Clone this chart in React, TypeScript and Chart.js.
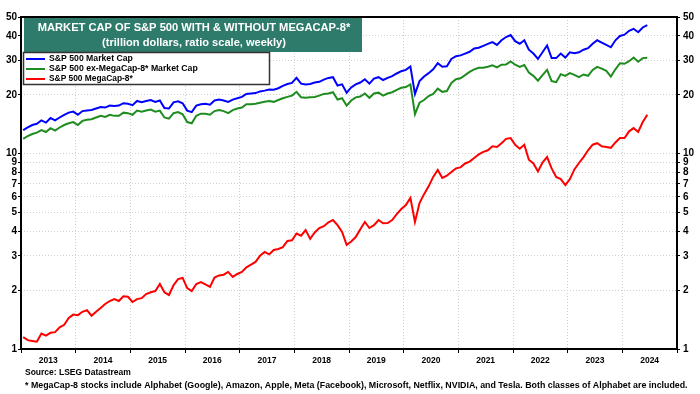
import React, { useEffect, useRef } from "react";
import { Chart, registerables } from "chart.js";

Chart.register(...registerables);

// Monthly readings, Jan 2013 .. Jun 2024 (trillion dollars)
const START_YEAR = 2013;
const sp500Total = [
  13.2, 13.6, 14.0, 14.2, 14.8, 14.4, 15.2, 14.8, 15.3, 15.8, 16.2, 16.4,
  15.8, 16.5, 16.6, 16.7, 17.0, 17.3, 17.2, 17.6, 17.5, 17.6, 18.1, 18.0,
  17.7, 18.6, 18.3, 18.6, 18.8, 18.4, 18.7, 17.1, 17.0, 18.3, 18.5, 18.1,
  16.6, 16.3, 17.6, 17.9, 18.0, 17.8, 18.7, 18.9, 18.7, 18.4, 18.9, 19.2,
  19.5, 20.2, 20.3, 20.4, 20.8, 21.0, 21.3, 21.2, 21.6, 22.2, 22.7, 23.0,
  24.4, 22.8, 22.6, 22.7, 23.1, 23.3, 23.9, 24.4, 24.6, 22.3, 22.6, 20.5,
  21.8, 22.6, 23.1, 24.0, 22.8, 24.2, 24.6, 23.8, 24.4, 24.9, 25.7, 26.4,
  26.8, 27.9, 20.2, 23.5, 24.8, 25.8, 27.0, 29.0, 27.8, 28.0, 30.5, 31.5,
  31.8, 32.5, 33.2, 34.5, 34.8, 35.6, 36.4, 37.2, 36.0, 38.0, 39.5, 40.4,
  37.6, 36.5, 38.0, 34.0, 32.5, 30.5, 33.0, 35.8, 30.8, 30.8, 32.5, 31.0,
  33.0, 32.6, 33.0, 34.0, 34.6, 36.5, 38.0, 37.0, 36.0, 35.0, 38.0, 40.0,
  40.6, 42.5, 43.5, 41.8, 44.2, 45.4,
];
const sp500ExMega = [
  11.9, 12.3, 12.6, 12.8, 13.2, 12.9, 13.5, 13.1, 13.6, 14.0, 14.3, 14.5,
  14.0, 14.7, 14.9, 15.0, 15.3, 15.6, 15.4, 15.8, 15.6, 15.6, 16.2, 16.1,
  15.8, 16.6, 16.4, 16.6, 16.8, 16.4, 16.6, 15.3, 15.1, 16.1, 16.3, 15.9,
  14.5, 14.3, 15.6, 16.0, 16.0, 15.8, 16.5, 16.7, 16.5, 16.1, 16.7, 17.0,
  17.2, 17.9, 17.9, 18.0, 18.2, 18.4, 18.6, 18.4, 18.8, 19.2, 19.5, 19.8,
  20.7, 19.4, 19.3, 19.4, 19.5, 19.8, 20.2, 20.3, 20.6, 18.9, 19.2, 17.6,
  18.7, 19.4, 19.6, 20.3, 19.3, 20.3, 20.5, 19.8, 20.3, 20.6, 21.2, 21.7,
  21.9, 22.6, 15.9, 18.2, 18.8, 19.7, 20.2, 21.5, 20.7, 20.9, 23.0, 24.0,
  24.3, 25.2, 26.2, 27.0, 27.5, 27.5, 27.8, 28.3, 27.6, 28.5, 28.6, 29.6,
  28.5, 27.8, 28.4, 26.0, 25.0, 23.6, 25.2, 26.8, 23.5, 23.2, 25.5, 25.0,
  25.8, 25.3, 24.6, 25.4, 25.0, 26.8, 27.8, 27.2, 26.5, 24.8, 27.0, 29.0,
  28.8, 29.7, 31.0, 29.5, 30.8, 30.9,
];
const megaCap8 = [
  1.15, 1.11, 1.10, 1.09, 1.20, 1.17, 1.21, 1.22, 1.29, 1.33, 1.44, 1.50,
  1.49, 1.55, 1.58, 1.48, 1.55, 1.62, 1.70, 1.76, 1.80, 1.76, 1.86, 1.85,
  1.74, 1.80, 1.82, 1.91, 1.95, 1.98, 2.15, 1.95, 1.89, 2.12, 2.28, 2.31,
  2.05, 1.98, 2.15, 2.20, 2.14, 2.08, 2.32, 2.38, 2.40, 2.48, 2.34, 2.42,
  2.48, 2.62, 2.70, 2.79, 3.00, 3.14, 3.05, 3.21, 3.25, 3.32, 3.57, 3.60,
  3.90, 3.80, 4.06, 3.66, 3.95, 4.16, 4.25, 4.45, 4.57, 4.30, 3.97, 3.41,
  3.55, 3.74, 4.10, 4.47, 4.16, 4.30, 4.57, 4.40, 4.41, 4.57, 4.90, 5.20,
  5.45, 5.93, 4.47, 5.58, 6.20, 6.80, 7.60, 8.25, 7.51, 7.70, 8.05, 8.40,
  8.50, 8.90, 9.10, 9.50, 9.90, 10.2, 10.4, 10.9, 10.8, 11.3, 11.9, 12.0,
  11.1, 10.6, 11.1, 9.3, 8.9, 8.1, 9.0, 9.6, 8.4, 7.6, 7.4, 6.9,
  7.4, 8.3, 8.95, 9.6, 10.4, 11.1, 11.3, 10.9, 10.8, 10.7, 11.4, 12.0,
  12.0, 13.0, 13.5, 12.9, 14.5, 15.8,
];
const yearTicks = [2013, 2014, 2015, 2016, 2017, 2018, 2019, 2020, 2021, 2022, 2023, 2024, 2025];
const yTicks = [1, 2, 3, 4, 5, 6, 7, 8, 9, 10, 20, 30, 40, 50];

const seriesNames = ["S&P 500 Market Cap", "S&P 500 ex-MegaCap-8* Market Cap", "S&P 500 MegaCap-8*"];
const seriesColors = ["#0000ff", "#1f8c1f", "#ff0000"];
const titleLines = ["MARKET CAP OF S&P 500 WITH & WITHOUT MEGACAP-8*", "(trillion dollars, ratio scale, weekly)"];
const sourceText = "Source: LSEG Datastream";
const footText =
  "* MegaCap-8 stocks include Alphabet (Google), Amazon, Apple, Meta (Facebook), Microsoft, Netflix, NVIDIA, and Tesla. Both classes of Alphabet are included.";

const FONT = "'Liberation Sans', Arial, sans-serif";

const toPoints = (arr: number[]) => arr.map((v, i) => ({ x: START_YEAR + i / 12 + 0.04, y: v }));

function fitText(ctx: CanvasRenderingContext2D, text: string, x: number, y: number, width: number, align: CanvasTextAlign) {
  ctx.font = `bold 10px ${FONT}`;
  const w = ctx.measureText(text).width;
  const size = (10 * width) / w;
  ctx.font = `bold ${size}px ${FONT}`;
  ctx.textAlign = align;
  ctx.textBaseline = "middle";
  ctx.fillText(text, x, y);
}

const decorPlugin = {
  id: "decor",
  afterDraw(chart: any) {
    const ctx: CanvasRenderingContext2D = chart.ctx;
    const a = chart.chartArea;
    ctx.save();
    // frame
    ctx.strokeStyle = "#000";
    ctx.lineWidth = 2;
    ctx.strokeRect(a.left, a.top, a.right - a.left, a.bottom - a.top);
    // title box
    ctx.fillStyle = "#2e7b6c";
    ctx.fillRect(24, 18, 338, 34);
    ctx.fillStyle = "#fff";
    fitText(ctx, titleLines[0], 194, 28, 313, "center");
    fitText(ctx, titleLines[1], 194, 43, 184, "center");
    // legend box
    ctx.fillStyle = "#fff";
    ctx.fillRect(23.5, 52.5, 246, 32);
    ctx.strokeStyle = "#333";
    ctx.lineWidth = 1.5;
    ctx.strokeRect(23.5, 52.5, 246, 32);
    const rows = [59, 69, 79];
    const widths = [84, 149, 84];
    seriesNames.forEach((n, i) => {
      ctx.strokeStyle = seriesColors[i];
      ctx.lineWidth = 2;
      ctx.beginPath();
      ctx.moveTo(26, rows[i]);
      ctx.lineTo(45, rows[i]);
      ctx.stroke();
      ctx.fillStyle = "#000";
      fitText(ctx, n, 49, rows[i], widths[i], "left");
    });
    // footnotes
    ctx.fillStyle = "#000";
    fitText(ctx, sourceText, 25, 373, 106, "left");
    fitText(ctx, footText, 25, 386, 663, "left");
    ctx.restore();
  },
};

export default function App() {
  const ref = useRef<HTMLCanvasElement>(null);
  useEffect(() => {
    const yAxisCommon = (position: "left" | "right", width: number, drawGrid: boolean) => ({
      type: "logarithmic" as const,
      position,
      min: 1,
      max: 50,
      afterBuildTicks: (axis: any) => {
        axis.ticks = yTicks.map((v) => ({ value: v }));
      },
      afterFit: (axis: any) => {
        axis.width = width;
      },
      ticks: {
        callback: (v: any) => String(v),
        font: { family: FONT, size: 10, weight: "bold" as const },
        color: "#000",
        padding: position === "left" ? 1 : 3,
        autoSkip: false,
      },
      grid: {
        drawOnChartArea: drawGrid,
        color: "#cfcfcf",
        lineWidth: 1,
        tickLength: 3,
        tickColor: "#000",
        tickWidth: 1,
      },
      border: { display: false, dash: [1, 2] },
    });
    const chart = new Chart(ref.current!, {
      type: "line",
      data: {
        datasets: [sp500Total, sp500ExMega, megaCap8].map((arr, i) => ({
          label: seriesNames[i],
          data: toPoints(arr),
          borderColor: seriesColors[i],
          backgroundColor: seriesColors[i],
          borderWidth: 2,
          pointRadius: 0,
          tension: 0,
          fill: false,
        })),
      },
      options: {
        responsive: false,
        animation: false,
        devicePixelRatio: 1,
        parsing: false as any,
        layout: { padding: { top: 17, left: 0, right: 0, bottom: 0 } },
        plugins: { legend: { display: false }, tooltip: { enabled: false }, title: { display: false } },
        scales: {
          x: {
            type: "linear",
            min: 2013,
            max: 2025,
            afterBuildTicks: (axis: any) => {
              axis.ticks = yearTicks.map((v) => ({ value: v }));
            },
            afterFit: (axis: any) => {
              axis.height = 45;
            },
            ticks: {
              callback: (v: any) => (v < 2025 ? String(v) : ""),
              labelOffset: 27.3,
              maxRotation: 0,
              autoSkip: false,
              padding: 3,
              font: { family: FONT, size: 8.5, weight: "bold" as const },
              color: "#000",
            },
            grid: { color: "#cfcfcf", lineWidth: 1, tickLength: 4, tickColor: "#000" },
            border: { display: false, dash: [1, 2] },
          },
          y: yAxisCommon("left", 21, true),
          y2: yAxisCommon("right", 23, false),
        },
      } as any,
      plugins: [decorPlugin],
    });
    return () => chart.destroy();
  }, []);
  return (
    <div style={{ position: "fixed", left: 0, top: 0, width: 700, height: 394, background: "#fff" }}>
      <canvas ref={ref} width={700} height={394} />
    </div>
  );
}
